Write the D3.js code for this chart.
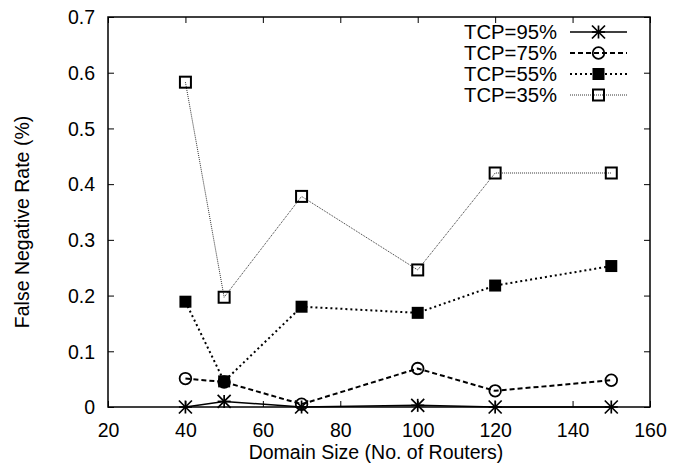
<!DOCTYPE html>
<html>
<head>
<meta charset="utf-8">
<script src="https://cdn.jsdelivr.net/npm/d3@7"></script>
<style>
  html, body { margin: 0; padding: 0; background: #fff; }
  svg { display: block; }
  text { font-family: "Liberation Sans", Arial, Helvetica, sans-serif; fill: #000; }
</style>
</head>
<body>
<svg id="chart" width="687" height="474"></svg>
<script>
// Domain sizes (number of routers) on the x axis
const domainSizes = [40, 50, 70, 100, 120, 150];

// False negative rate (%) for each TCP traffic share
const tcp95 = [0.000, 0.010, 0.000, 0.003, 0.000, 0.000];
const tcp75 = [0.051, 0.045, 0.005, 0.069, 0.029, 0.048];
const tcp55 = [0.189, 0.046, 0.180, 0.169, 0.218, 0.253];
const tcp35 = [0.583, 0.197, 0.378, 0.246, 0.420, 0.420];

const seriesNames = ["TCP=95%", "TCP=75%", "TCP=55%", "TCP=35%"];

const xTicks = [20, 40, 60, 80, 100, 120, 140, 160];
const yTicks = [0, 0.1, 0.2, 0.3, 0.4, 0.5, 0.6, 0.7];

const xTitle = "Domain Size (No. of Routers)";
const yTitle = "False Negative Rate (%)";

const series = [
  { name: seriesNames[0], values: tcp95, marker: "star",   dash: null,  width: 1.5, color: "#000" },
  { name: seriesNames[1], values: tcp75, marker: "circle", dash: "5,3", width: 2,   color: "#000" },
  { name: seriesNames[2], values: tcp55, marker: "filled", dash: "2,3", width: 2,   color: "#000" },
  { name: seriesNames[3], values: tcp35, marker: "square", dash: "1,1", width: 1,   color: "#333" }
];

const svg = d3.select("#chart");
const plotLeft = 108, plotRight = 650, plotTop = 17, plotBottom = 407;

const x = d3.scaleLinear().domain([20, 160]).range([plotLeft, plotRight]);
const y = d3.scaleLinear().domain([0, 0.7]).range([plotBottom, plotTop]);

const fontSize = 19.5;
const legendFontSize = 20.3;
const tickLen = 6;

// Axes with inward ticks, mirrored on the opposite sides
const gx = svg.append("g").attr("transform", `translate(0,${plotBottom})`)
  .call(d3.axisBottom(x).tickValues(xTicks).tickSizeInner(-tickLen).tickSizeOuter(0).tickPadding(16).tickFormat(d3.format("d")));
const gxTop = svg.append("g").attr("transform", `translate(0,${plotTop})`)
  .call(d3.axisTop(x).tickValues(xTicks).tickSizeInner(-tickLen).tickSizeOuter(0).tickFormat(""));
const gy = svg.append("g").attr("transform", `translate(${plotLeft},0)`)
  .call(d3.axisLeft(y).tickValues(yTicks).tickSizeInner(-tickLen).tickSizeOuter(0).tickPadding(13)
    .tickFormat(d => d === 0 ? "0" : d3.format(".1f")(d)));
const gyRight = svg.append("g").attr("transform", `translate(${plotRight},0)`)
  .call(d3.axisRight(y).tickValues(yTicks).tickSizeInner(-tickLen).tickSizeOuter(0).tickFormat(""));

[gx, gxTop, gy, gyRight].forEach(g => {
  g.select(".domain").remove();
  g.selectAll(".tick line").attr("stroke", "#000").attr("stroke-width", 1);
  g.selectAll(".tick text").style("font-size", fontSize + "px").attr("fill", "#000")
    .style("font-family", "'Liberation Sans', Arial, Helvetica, sans-serif");
});
gx.selectAll(".tick text").attr("dy", "0").attr("y", 30);
gy.selectAll(".tick text").attr("dy", "0.35em");

// Plot frame
svg.append("rect")
  .attr("x", plotLeft).attr("y", plotTop)
  .attr("width", plotRight - plotLeft).attr("height", plotBottom - plotTop)
  .attr("fill", "none").attr("stroke", "#000").attr("stroke-width", 1.5);

// Axis titles
svg.append("text")
  .attr("x", 376).attr("y", 459)
  .attr("text-anchor", "middle")
  .style("font-size", fontSize + "px")
  .text(xTitle);

svg.append("text")
  .attr("transform", `translate(29,222) rotate(-90)`)
  .attr("text-anchor", "middle")
  .style("font-size", fontSize + "px")
  .text(yTitle);

// Marker drawing
function drawMarker(g, type, cx, cy) {
  if (type === "star") {
    const r = 6.5;
    const segs = [[-r, 0, r, 0], [0, -r, 0, r], [-r, -r, r, r], [-r, r, r, -r]];
    segs.forEach(s => g.append("line")
      .attr("x1", cx + s[0]).attr("y1", cy + s[1]).attr("x2", cx + s[2]).attr("y2", cy + s[3])
      .attr("stroke", "#000").attr("stroke-width", 1.7));
  } else if (type === "circle") {
    g.append("circle").attr("cx", cx).attr("cy", cy).attr("r", 5.8)
      .attr("fill", "none").attr("stroke", "#000").attr("stroke-width", 1.8);
  } else if (type === "filled") {
    g.append("rect").attr("x", cx - 6).attr("y", cy - 6).attr("width", 12).attr("height", 12)
      .attr("fill", "#000");
  } else if (type === "square") {
    g.append("rect").attr("x", cx - 5.5).attr("y", cy - 5.5).attr("width", 11).attr("height", 11)
      .attr("fill", "none").attr("stroke", "#000").attr("stroke-width", 2);
  }
}

const line = d3.line().x(d => x(d[0])).y(d => y(d[1]));

series.forEach(s => {
  const pts = domainSizes.map((v, i) => [v, s.values[i]]);
  const g = svg.append("g");
  g.append("path")
    .attr("d", line(pts))
    .attr("fill", "none")
    .attr("stroke", s.color)
    .attr("stroke-width", s.width)
    .attr("stroke-dasharray", s.dash);
  pts.forEach(p => drawMarker(g, s.marker, x(p[0]), y(p[1])));
});

// Legend, top right inside the frame
const legendTextX = 557, sampleX0 = 570, sampleX1 = 627;
const legendY0 = 32, legendStep = 21;
series.forEach((s, i) => {
  const ly = legendY0 + i * legendStep;
  const g = svg.append("g");
  g.append("text")
    .attr("x", legendTextX).attr("y", ly).attr("dy", "0.35em")
    .attr("text-anchor", "end")
    .style("font-size", legendFontSize + "px")
    .text(s.name);
  g.append("line")
    .attr("x1", sampleX0).attr("x2", sampleX1).attr("y1", ly).attr("y2", ly)
    .attr("stroke", s.color).attr("stroke-width", s.width)
    .attr("stroke-dasharray", s.dash);
  drawMarker(g, s.marker, (sampleX0 + sampleX1) / 2, ly);
});
</script>
</body>
</html>
